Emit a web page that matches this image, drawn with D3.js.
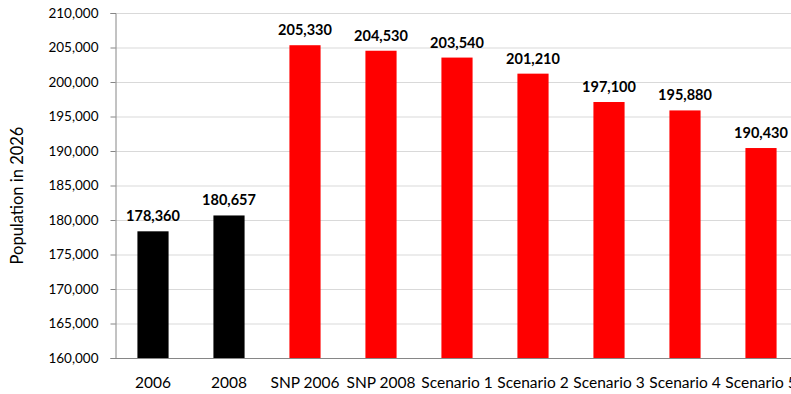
<!DOCTYPE html>
<html><head><meta charset="utf-8">
<script src="https://cdn.jsdelivr.net/npm/d3@7"></script>
<style>body{margin:0;background:#fff;overflow:hidden}svg{display:block}</style>
</head><body>
<script>
const categories = ["2006","2008","SNP 2006","SNP 2008","Scenario 1","Scenario 2","Scenario 3","Scenario 4","Scenario 5"];
const values = [178360,180657,205330,204530,203540,201210,197100,195880,190430];
const barColors = ["#000000","#000000","#ff0000","#ff0000","#ff0000","#ff0000","#ff0000","#ff0000","#ff0000"];
const yTicks = [160000,165000,170000,175000,180000,185000,190000,195000,200000,205000,210000];
const yTitle = "Population in 2026";

const W = 791, H = 394;
const font = "Lato, 'Open Sans', sans-serif";
const svg = d3.select("body").append("svg").attr("width", W).attr("height", H);
const x0 = 115, yTop = 13, yBot = 358;
const x = d3.scaleBand().domain(categories).range([x0, x0 + 76*categories.length]).paddingInner(0.59).paddingOuter(0.295);
const y = d3.scaleLinear().domain([160000,210000]).range([yBot, yTop]);
const fmt = d3.format(",");

// gridlines
svg.append("g").selectAll("line").data(yTicks.slice(1)).join("line")
  .attr("x1", x0).attr("x2", W).attr("y1", d => y(d)+0.5).attr("y2", d => y(d)+0.5)
  .attr("stroke", "#d9d9d9").attr("stroke-width", 1);

// bars
svg.append("g").selectAll("rect").data(values).join("rect")
  .attr("x", (d,i) => x(categories[i])).attr("width", x.bandwidth())
  .attr("y", d => y(d)).attr("height", d => yBot - y(d))
  .attr("fill", (d,i) => barColors[i]);

// data labels
svg.append("g").selectAll("text").data(values).join("text")
  .attr("x", (d,i) => x(categories[i]) + x.bandwidth()/2)
  .attr("y", d => y(d) - 10)
  .attr("text-anchor", "middle").attr("font-family", font).attr("font-weight", "bold")
  .attr("font-size", 14.5).attr("fill", "#000").text(d => fmt(d));

// y axis
const ya = svg.append("g").attr("transform", `translate(${x0+0.5},0)`)
  .call(d3.axisLeft(y).tickValues(yTicks).tickFormat(fmt).tickSize(5).tickPadding(12));
ya.select(".domain").attr("stroke", "#868686");
ya.selectAll(".tick line").attr("stroke", "#868686");
ya.selectAll(".tick text").attr("font-family", font).attr("font-size", 13.5).attr("fill", "#000");

// x axis
const xa = svg.append("g").attr("transform", `translate(0,${yBot+0.5})`)
  .call(d3.axisBottom(x).tickSize(0).tickPadding(18));
xa.select(".domain").attr("stroke", "#868686").attr("d", `M${x0},0H${W}`);
xa.selectAll(".tick text").attr("font-family", font).attr("font-size", 15.5).attr("fill", "#000");

// y title
svg.append("text").attr("transform", `translate(23,${(yTop+yBot)/2+10}) rotate(-90)`)
  .attr("text-anchor", "middle").attr("font-family", font).attr("font-size", 16.5)
  .attr("fill", "#000").text(yTitle);
</script>
</body></html>
